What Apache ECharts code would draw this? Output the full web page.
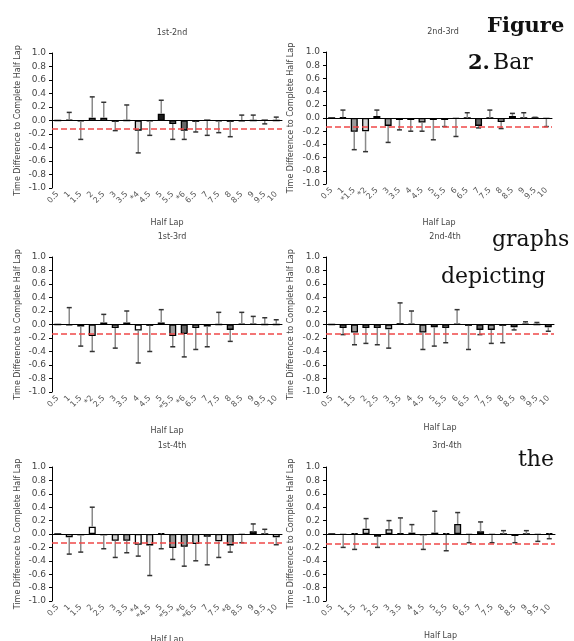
<!DOCTYPE html>
<html>
<head>
<meta charset="utf-8">
<script src="https://cdn.jsdelivr.net/npm/echarts@6/dist/echarts.min.js"></script>
<style>html,body{margin:0;padding:0;background:#fff;}#c{width:574px;height:641px;}</style>
</head>
<body>
<div id="c"></div>
<script>
// ---------------- DATA ----------------
const categories = ['0.5','1','1.5','2','2.5','3','3.5','4','4.5','5','5.5','6','6.5','7','7.5','8','8.5','9','9.5','10'];

const titles = ['1st-2nd','2nd-3rd','1st-3rd','2nd-4th','1st-4th','3rd-4th'];

// tick labels (asterisk = significant)
const ticks12 = ['0.5','1','1.5','2','2.5','3','3.5','*4','4.5','5','5.5','*6','6.5','7','7.5','8','8.5','9','9.5','10'];
const ticks23 = ['0.5','1','*1.5','*2','2.5','3','3.5','4','4.5','5','5.5','6','6.5','7','7.5','8','8.5','9','9.5','10'];
const ticks13 = ['0.5','1','1.5','*2','2.5','3','3.5','4','4.5','5','*5.5','*6','6.5','7','7.5','8','8.5','9','9.5','10'];
const ticks24 = ['0.5','1','1.5','2','2.5','3','3.5','4','4.5','5','5.5','6','6.5','7','7.5','8','8.5','9','9.5','10'];
const ticks14 = ['0.5','1','1.5','2','2.5','3','3.5','*4','*4.5','5','*5.5','*6','*6.5','7','7.5','*8','8.5','9','9.5','10'];
const ticks34 = ['0.5','1','1.5','2','2.5','3','3.5','4','4.5','5','5.5','6','6.5','7','7.5','8','8.5','9','9.5','10'];

// mean differences
const mean12 = [0, 0.01, -0.01, 0.04, 0.04, -0.02, 0, -0.15, -0.01, 0.10, -0.05, -0.15, -0.02, 0.01, -0.01, -0.02, -0.01, 0, 0.01, 0];
const mean23 = [0, 0.01, -0.21, -0.20, 0.03, -0.12, -0.03, -0.03, -0.07, -0.03, -0.03, -0.01, 0, -0.12, 0, -0.06, 0.03, 0, 0, -0.01];
const mean13 = [0, -0.01, -0.03, -0.17, 0.03, -0.05, 0.03, -0.09, -0.02, 0.03, -0.17, -0.14, -0.05, -0.03, 0, -0.08, 0.01, 0.01, 0, 0];
const mean24 = [0, -0.05, -0.12, -0.05, -0.05, -0.07, 0.02, 0.01, -0.12, -0.04, -0.05, 0.01, -0.02, -0.08, -0.08, -0.02, -0.04, 0.01, 0, -0.04];
const mean14 = [0, -0.05, -0.02, 0.11, -0.02, -0.10, -0.10, -0.16, -0.17, 0.01, -0.21, -0.19, -0.15, -0.04, -0.11, -0.17, -0.01, 0.04, 0, -0.05];
const mean34 = [0, -0.01, 0.01, 0.08, -0.04, 0.07, 0.01, 0.02, -0.02, 0.02, 0.01, 0.15, -0.01, 0.04, -0.01, 0, -0.03, 0, -0.01, 0.01];

// error bar tips
const err12 = [0, 0.12, -0.28, 0.35, 0.27, -0.15, 0.23, -0.48, -0.22, 0.30, -0.28, -0.28, -0.17, -0.22, -0.18, -0.24, 0.08, 0.08, -0.05, 0.05];
const err23 = [0, 0.12, -0.48, -0.51, 0.12, -0.37, -0.18, -0.20, -0.20, -0.33, -0.13, -0.28, 0.08, -0.15, 0.12, -0.16, 0.07, 0.08, 0.01, -0.13];
const err13 = [0, 0.25, -0.32, -0.40, 0.15, -0.35, 0.20, -0.57, -0.40, 0.22, -0.33, -0.48, -0.37, -0.33, 0.18, -0.25, 0.18, 0.12, 0.10, 0.07];
const err24 = [0, -0.15, -0.30, -0.28, -0.30, -0.35, 0.32, 0.20, -0.37, -0.32, -0.27, 0.22, -0.37, -0.15, -0.28, -0.27, -0.08, 0.04, 0.03, -0.10];
const err14 = [0, -0.30, -0.27, 0.40, -0.22, -0.35, -0.28, -0.33, -0.62, -0.22, -0.38, -0.48, -0.40, -0.46, -0.35, -0.27, -0.13, 0.15, 0.07, -0.16];
const err34 = [0, -0.20, -0.23, 0.23, -0.20, 0.20, 0.24, 0.14, -0.23, 0.34, -0.25, 0.32, -0.13, 0.18, -0.13, 0.05, -0.13, 0.05, -0.11, -0.07];

// reference (dashed) line values
const refLines = [-0.12, -0.13, -0.13, -0.14, -0.13, -0.14];

// ---------------- STYLE ----------------
const SHADE = {W:'#ffffff', L:'#d4d4d4', G:'#9a9a9a', D:'#666666', K:'#1a1a1a'};
const shades = [
  'KKKLLKKLKKGDKKKKKKKK',
  'KKGLGGKKGKKKKDKGDKKK',
  'KKKLKLKWKKGDLLKDKGKK',
  'KGGGGGKKGGGKKDGKLKKL',
  'KLKWKLGWLKGGLLLGKDKL',
  'KKKLKLKKKKKGKDKKKKKK'
];
const gridBox = [
  [52, 53, 230, 135],
  [326, 52, 226, 132],
  [52, 257, 230, 135],
  [326, 257, 228, 135],
  [52, 467, 230, 134],
  [326, 467, 229, 134]
];
const grids = gridBox.map(g => ({left: g[0], top: g[1], width: g[2], height: g[3], containLabel: false, outerBoundsMode: 'none'}));
const xNameGap = [31, 35, 35, 32, 35, 31];
const yNameGap = [30, 31, 30, 31, 30, 31];
const titlePos = [[167,24],[438,23],[167,228],[440,228],[167,437],[442,437]];

const FONT = 'DejaVu Sans';
const panels = [
  [ticks12, mean12, err12],
  [ticks23, mean23, err23],
  [ticks13, mean13, err13],
  [ticks24, mean24, err24],
  [ticks14, mean14, err14],
  [ticks34, mean34, err34]
];

const xAxis = [], yAxis = [], series = [], title = [];
panels.forEach((p, k) => {
  const [tk, mean, err] = p;
  title.push({text: titles[k], left: titlePos[k][0], top: titlePos[k][1], textAlign: 'center',
    textStyle: {fontFamily: FONT, fontSize: 8, fontWeight: 'normal', color: '#444'}});
  xAxis.push({
    type: 'category', gridIndex: k, data: tk, boundaryGap: true,
    name: 'Half Lap', nameLocation: 'middle', nameGap: xNameGap[k],
    nameTextStyle: {fontFamily: FONT, fontSize: 8, color: '#444'},
    axisLine: {lineStyle: {color: '#000', width: 1}},
    axisTick: {alignWithLabel: true, length: 3, lineStyle: {color: '#000'}},
    axisLabel: {interval: 0, rotate: 45, fontFamily: FONT, fontSize: 8, color: '#555', margin: 5},
    splitLine: {show: false}
  });
  yAxis.push({
    type: 'value', gridIndex: k, min: -1, max: 1, interval: 0.2,
    name: 'Time Difference to Complete Half Lap', nameLocation: 'middle', nameGap: yNameGap[k],
    nameTextStyle: {fontFamily: FONT, fontSize: 8, color: '#444'},
    axisLine: {show: true, lineStyle: {color: '#000', width: 1}},
    axisTick: {show: true, length: 3, lineStyle: {color: '#000'}},
    axisLabel: {fontFamily: FONT, fontSize: 9, color: '#444', margin: 6,
      formatter: v => v.toFixed(1)},
    splitLine: {show: false}
  });
  series.push({
    type: 'bar', xAxisIndex: k, yAxisIndex: k, barWidth: 7,
    data: mean.map((v, i) => ({value: v, itemStyle: {color: SHADE[shades[k][i]]}})),
    itemStyle: {borderColor: '#000', borderWidth: 1.3},
    z: 3,
    markLine: {
      silent: true, symbol: 'none', label: {show: false},
      data: [
        {yAxis: 0, lineStyle: {color: '#000', width: 1.2, type: 'solid'}},
        {yAxis: refLines[k], lineStyle: {color: '#f04848', width: 1.5, type: [6, 3]}}
      ]
    }
  });
  series.push({
    type: 'custom', xAxisIndex: k, yAxisIndex: k, z: 4,
    data: mean.map((m, i) => [i, m, err[i]]),
    encode: {x: 0, y: [1, 2]},
    renderItem: (params, api) => {
      const i = api.value(0), m = api.value(1), e = api.value(2);
      if (e === m) return;
      const p0 = api.coord([i, m]);
      const p1 = api.coord([i, e]);
      return {type: 'group', children: [
        {type: 'line', shape: {x1: p0[0], y1: p0[1], x2: p1[0], y2: p1[1]}, style: {stroke: '#8a8a8a', lineWidth: 1.5}},
        {type: 'line', shape: {x1: p1[0] - 2.5, y1: p1[1], x2: p1[0] + 2.5, y2: p1[1]}, style: {stroke: '#333', lineWidth: 1.5}}
      ]};
    }
  });
});

const SERIF = 'DejaVu Serif';
const FS = 22;
const txt = (t, x, baseline, bold, fs) => ({
  type: 'text', x: x, y: baseline - (fs || FS) * 0.32, z: 100,
  style: {text: t, font: (bold ? 'bold ' : '') + (fs || FS) + 'px "' + SERIF + '"', fill: '#111', verticalAlign: 'middle', align: 'left'}
});

const chart = echarts.init(document.getElementById('c'), null, {renderer: 'canvas'});
chart.setOption({
  animation: false,
  backgroundColor: '#fff',
  title: title,
  grid: grids,
  xAxis: xAxis,
  yAxis: yAxis,
  series: series,
  graphic: [
    txt('Figure', 487, 33, true, 21),
    txt('2.', 468, 70, true, 21),
    txt('Bar', 493, 70, false),
    txt('graphs', 492, 247, false),
    txt('depicting', 441, 284, false),
    txt('the', 518, 467, false)
  ]
});
</script>
</body>
</html>
